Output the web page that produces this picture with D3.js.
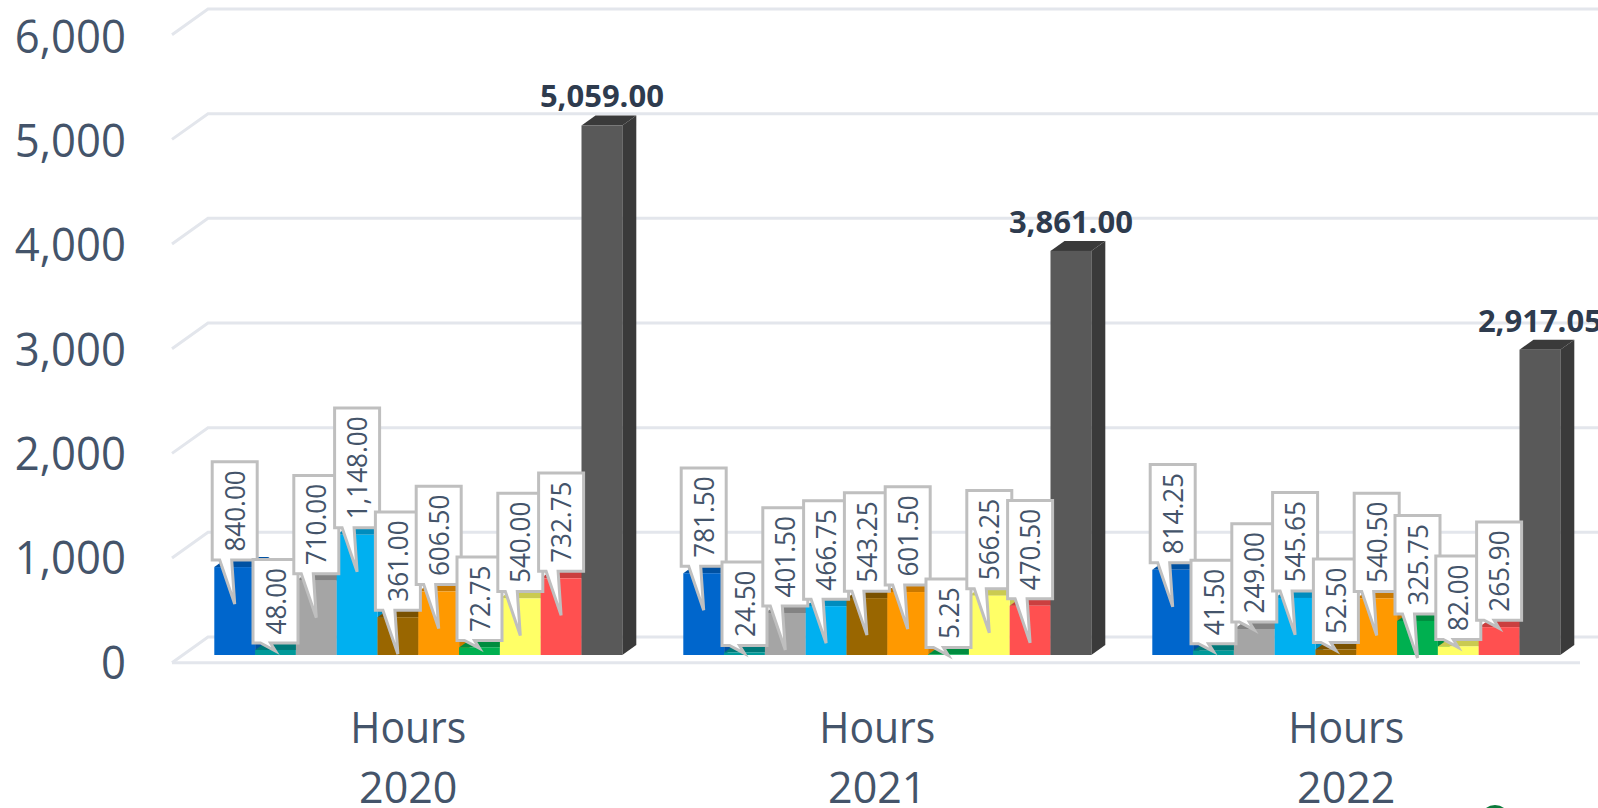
<!DOCTYPE html>
<html><head><meta charset="utf-8">
<script src="https://cdn.jsdelivr.net/npm/d3@7/dist/d3.min.js"></script>
<style>html,body{margin:0;padding:0;background:#fff;overflow:hidden}svg{display:block}text{font-family:"Open Sans",sans-serif;fill:#44546A}</style>
</head><body><svg id="c" width="1598" height="808"></svg>
<script>
const years = ["2020","2021","2022"];
const seriesNames = ["s1","s2","s3","s4","s5","s6","s7","s8","s9","total"];
const colors = ["#0066CC","#009999","#A5A5A5","#00B0F0","#996600","#FF9900","#00B050","#FFFF66","#FF5050","#595959"];
const values2020 = [840,48,710,1148,361,606.5,72.75,540,732.75,5059];
const values2021 = [781.5,24.5,401.5,466.75,543.25,601.5,5.25,566.25,470.5,3861];
const values2022 = [814.25,41.5,249,545.65,52.5,540.5,325.75,82,265.9,2917.05];
const yTicks = [0,1000,2000,3000,4000,5000,6000];
const table = [values2020,values2021,values2022];

const svg = d3.select("#c");
const y = d3.scaleLinear().domain([0,6000]).range([655,27]);
const x0 = d3.scaleBand().domain(years).range([214.3,214.3+3*469]);
const x1 = d3.scaleBand().domain(seriesNames).range([0,408]);
const DX=14, DY=10;
const fmt = d3.format(",.2f");
const squeeze = (sel,k)=>sel.each(function(){const l=this.getComputedTextLength();d3.select(this).attr("textLength",l*k).attr("lengthAdjust","spacingAndGlyphs");});

// gridlines
const grid = svg.append("g").attr("fill","none").attr("stroke","#E3E6EC").attr("stroke-width",3);
yTicks.forEach(t=>{
  const by=y(t)-18, fy=y(t)+7.7;
  grid.append("path").attr("d",d3.line()([[172,fy],[208,by],[1598,by]]));
});
grid.append("path").attr("d",d3.line()([[172,y(0)+7.7],[1580,y(0)+7.7]]));

// y axis
const yAxis = svg.append("g").attr("transform","translate(126,0)")
  .call(d3.axisLeft(y.copy().range([y(0)+7,y(6000)+9])).tickValues(yTicks).tickSize(0).tickPadding(0).tickFormat(d3.format(",")));
yAxis.select(".domain").remove();
yAxis.selectAll("text").attr("font-size",45).style("font-family",'"Open Sans",sans-serif').attr("fill","#44546A").attr("dy","0.36em").call(squeeze,0.97);

// bars
table.forEach((vals,i)=>{
  const g = svg.append("g").attr("transform",`translate(${x0(years[i])},0)`);
  seriesNames.forEach((s,j)=>{
    const v=vals[j], l=x1(s), w=x1.bandwidth(), t=y(v), b=y(0);
    const dark=d3.color(colors[j]).darker(j===9?1.2:0.65).formatHex();
    g.append("path").attr("fill",dark).attr("d",d3.line()([[l+w,t],[l+w+DX,t-DY],[l+w+DX,b-DY],[l+w,b]]));
    g.append("path").attr("fill",dark).attr("d",d3.line()([[l,t],[l+DX,t-DY],[l+w+DX,t-DY],[l+w,t]]));
    g.append("rect").attr("x",l).attr("y",t).attr("width",w).attr("height",b-t).attr("fill",colors[j]);
  });
});

// callouts
table.forEach((vals,i)=>{
  const g = svg.append("g").attr("transform",`translate(${x0(years[i])},0)`);
  seriesNames.forEach((s,j)=>{
    const v=vals[j], cx=x1(s)+x1.bandwidth()/2, t=y(v);
    if(j===9){
      g.append("text").attr("x",cx).attr("y",t-18).attr("text-anchor","middle")
        .attr("font-size",31).attr("font-weight",700).style("fill","#2E3B4E").text(fmt(v));
      return;
    }
    const bottom=t-7, long=v>=300;
    const tip=long?t+37:t+1;
    const box=g.append("g");
    const path=box.append("path").attr("fill","#fff").attr("stroke","#BFBFBF").attr("stroke-width",3).attr("stroke-linejoin","miter");
    const txt=box.append("text").attr("font-size",28).attr("text-anchor","middle").text(fmt(v));
    const len=txt.node().getComputedTextLength()*0.93;
    txt.attr("textLength",len).attr("lengthAdjust","spacingAndGlyphs");
    const h=len+17, top=bottom-h;
    txt.attr("transform",`translate(${cx+10},${bottom-h/2}) rotate(-90)`);
    const wedge=long?[[cx-3,bottom],[cx,tip],[cx-15,bottom]]:[[cx-5,bottom],[cx,tip],[cx-15,bottom]];
    path.attr("d",d3.line()([[cx-22.5,top],[cx+22.5,top],[cx+22.5,bottom],...wedge,[cx-22.5,bottom]])+"Z");
  });
});

// categories
years.forEach(yr=>{
  const cx=x0(yr)+194;
  svg.append("text").attr("x",cx).attr("y",743).attr("text-anchor","middle").attr("font-size",44).text("Hours").call(squeeze,0.93);
  svg.append("text").attr("x",cx).attr("y",803).attr("text-anchor","middle").attr("font-size",43).text(yr);
});

// cut-off green mark at the bottom edge of the picture
svg.append("circle").attr("cx",1495).attr("cy",820).attr("r",15).attr("fill","#0B7A3B");
</script></body></html>
